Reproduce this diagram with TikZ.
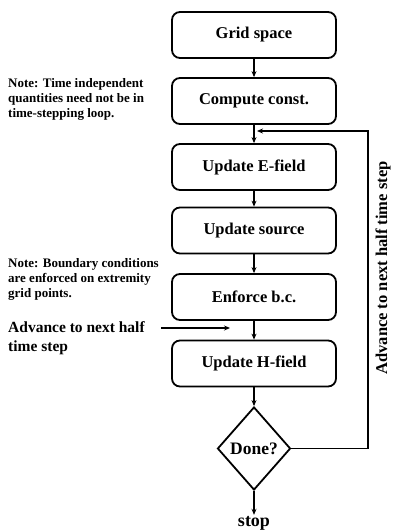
\documentclass[tikz,border=0pt]{standalone}
\usepackage{fontspec}
\setmainfont{Liberation Serif}
\usetikzlibrary{shapes.geometric,arrows.meta}
\begin{document}
\begin{tikzpicture}[x=1pt,y=-1pt,
  stepbox/.style={draw, line width=1.8pt, rounded corners=8pt, minimum width=164pt, minimum height=46pt, inner sep=0pt, font=\fontsize{16.5}{18}\selectfont\bfseries},
  decision/.style={diamond, draw, line width=1.8pt, minimum width=73pt, minimum height=83pt, inner sep=0pt, font=\fontsize{17.5}{19}\selectfont\bfseries},
  flow/.style={line width=1.3pt, -{Stealth[length=6pt,width=5pt]}},
  note/.style={anchor=north west, inner sep=0pt, align=left, font=\fontsize{13}{15}\selectfont\bfseries},
  bignote/.style={anchor=north west, inner sep=0pt, align=left, font=\fontsize{15.5}{19}\selectfont\bfseries}]
\useasboundingbox (0,0) rectangle (395,532);
\fill[white] (0,0) rectangle (395,532);
% flow steps
\node[stepbox] (grid)   at (254,35)    {Grid space};
\node[stepbox] (comp)   at (254,101)   {Compute const.};
\node[stepbox] (efield) at (254,167)   {Update E-field};
\node[stepbox] (source) at (254,230.5) {Update source};
\node[stepbox] (bc)     at (254,297)   {Enforce b.c.};
\node[stepbox] (hfield) at (254,363.5) {Update H-field};
\node[decision] (done)  at (254,448.5) {Done?};
\node[font=\fontsize{18}{20}\selectfont\bfseries, inner sep=1pt] (stop) at (254,523) {stop};
% notes
\node[note] (note1) at (8,78) {Note: Time independent\\quantities need not be in\\time-stepping loop.};
\node[note] (note2) at (8,258) {Note: Boundary conditions\\are enforced on extremity\\grid points.};
\node[bignote] (adv) at (8,321) {Advance to next half\\time step};
\node[rotate=90, font=\fontsize{16.5}{18}\selectfont\bfseries] (side) at (383,268) {Advance to next half time step};
% connectors
\draw[flow] (grid) -- (comp);
\draw[flow] (comp) -- (efield);
\draw[flow] (efield) -- (source);
\draw[flow] (source) -- (bc);
\draw[flow] (bc) -- (hfield);
\draw[flow] (hfield) -- (done);
\draw[flow] (done) -- (stop);
\coordinate (loopcorner) at (368,131);
\coordinate (loopin) at (257,131);
\draw[flow] (done.east) -| (loopcorner) -- (loopin);
\coordinate (advs) at (161,328);
\coordinate (adve) at (230,328);
\draw[flow] (advs) -- (adve);
\end{tikzpicture}
\end{document}
